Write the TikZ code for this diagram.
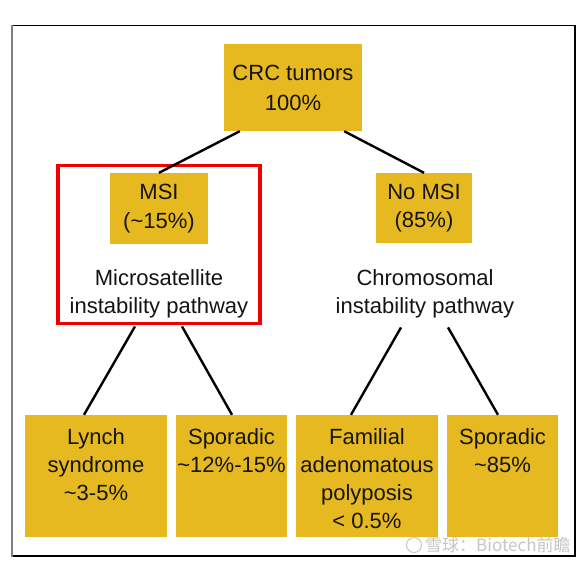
\documentclass[tikz,border=0pt]{standalone}
\usepackage{fontspec}
\setmainfont{Liberation Sans}
\newfontfamily\cjkfont{Noto Sans CJK SC}
\usetikzlibrary{calc}
\definecolor{gold}{RGB}{230,185,32}
\definecolor{txtc}{RGB}{20,20,20}
\definecolor{hlred}{RGB}{240,0,0}
\tikzset{
  box/.style={fill=gold, draw=none, inner sep=0pt, align=center, text=txtc,
    font=\fontsize{22}{28.5}\selectfont},
  txt/.style={inner sep=0pt, align=center, text=txtc, font=\fontsize{22}{28}\selectfont},
  link/.style={draw=black, line width=2.4pt},
}
\begin{document}
\begin{tikzpicture}[x=1pt,y=-1pt]
\useasboundingbox (0,0) rectangle (586,568);
\fill[white] (0,0) rectangle (586,568);
% frame
\draw[black, line width=1.2pt] (12,25.5) -- (575,25.5) -- (575,556) -- (12,556);
\draw[gray, line width=2pt] (12,25) -- (12,556.6);
% top level
\node[box, minimum width=138, minimum height=87] (crc) at (293,87.5) {};
\node[txt, anchor=north, font=\fontsize{22}{30}\selectfont] (crcT) at (293,64.5) {CRC tumors\\100\%};
\node[box, minimum width=98, minimum height=71] (msi) at (159,208.5) {MSI\\(\textasciitilde15\%)};
\node[box, minimum width=96, minimum height=70] (nomsi) at (424,208) {No MSI\\(85\%)};
% pathway texts
\node[txt, anchor=north] (micro) at (159,269.5) {Microsatellite\\instability pathway};
\node[txt, anchor=north] (chromo) at (425,269.5) {Chromosomal\\instability pathway};
% highlight
\node[draw=hlred, line width=3.5pt, inner sep=0pt, minimum width=202, minimum height=158] (hl) at (159,244.5) {};
% bottom boxes
\node[box, minimum width=142, minimum height=122] (lynch) at (96,476) {};
\node[box, minimum width=111, minimum height=122] (spor1) at (231.5,476) {};
\node[box, minimum width=142, minimum height=122] (fap) at (367,476) {};
\node[box, minimum width=111, minimum height=122] (spor2) at (502.5,476) {};
\node[txt, anchor=north] (lynchT) at ($(lynch.north)+(0,13.5)$) {Lynch\\syndrome\\\textasciitilde3-5\%};
\node[txt, anchor=north] (spor1T) at ($(spor1.north)+(0,13.5)$) {Sporadic\\\textasciitilde12\%-15\%};
\node[txt, anchor=north] (fapT) at ($(fap.north)+(0,13.5)$) {Familial\\adenomatous\\polyposis\\< 0.5\%};
\node[txt, anchor=north] (spor2T) at ($(spor2.north)+(0,13.5)$) {Sporadic\\\textasciitilde85\%};
% connectors
\draw[link] ($(crc.south west)+(16,0)$) -- (msi.north);
\draw[link] ($(crc.south east)+(-18,0)$) -- (nomsi.north);
\draw[link] ($(micro.south)+(-24,8)$) -- ($(lynch.north)+(-12,0)$);
\draw[link] ($(micro.south)+(23,8)$) -- ($(spor1.north)+(0.5,0)$);
\draw[link] ($(chromo.south)+(-24,9)$) -- ($(fap.north)+(-16,0)$);
\draw[link] ($(chromo.south)+(23,9)$) -- ($(spor2.north)+(-4.5,0)$);
% watermark
\node[draw=gray!45, line width=1pt, circle, minimum size=15, inner sep=0pt] (wmlogo) at (414,545) {};
\node[anchor=west, inner sep=0pt, text=gray!45, font=\cjkfont\fontsize{17}{17}\selectfont] (wm) at (425,545) {雪球：Biotech前瞻};
\end{tikzpicture}
\end{document}
